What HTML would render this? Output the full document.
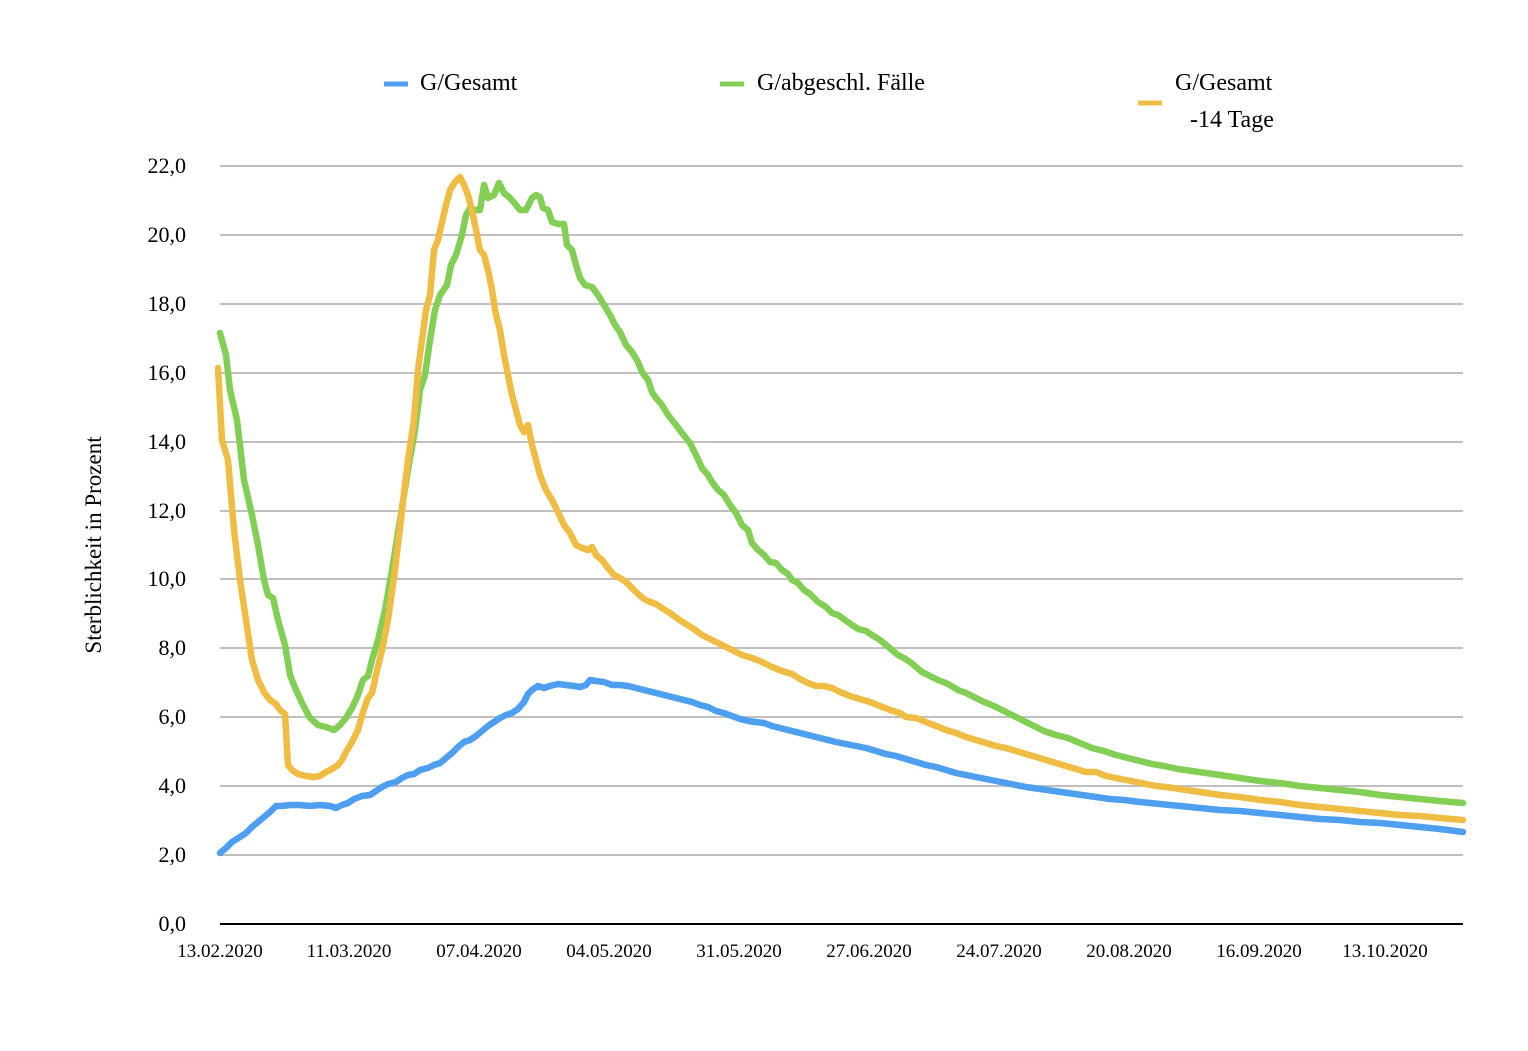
<!DOCTYPE html>
<html><head><meta charset="utf-8"><style>
html,body{margin:0;padding:0;background:#fff;}
svg text{font-family:"Liberation Serif",serif;fill:#000;}
</style></head><body>
<svg width="1528" height="1046" viewBox="0 0 1528 1046" xmlns="http://www.w3.org/2000/svg">
<g stroke="#c0c0c0" stroke-width="2">
<line x1="220" y1="166" x2="1463" y2="166"/><line x1="220" y1="235" x2="1463" y2="235"/>
<line x1="220" y1="304" x2="1463" y2="304"/><line x1="220" y1="373" x2="1463" y2="373"/>
<line x1="220" y1="442" x2="1463" y2="442"/><line x1="220" y1="511" x2="1463" y2="511"/>
<line x1="220" y1="579" x2="1463" y2="579"/><line x1="220" y1="648" x2="1463" y2="648"/>
<line x1="220" y1="717" x2="1463" y2="717"/><line x1="220" y1="786" x2="1463" y2="786"/>
<line x1="220" y1="855" x2="1463" y2="855"/>
</g>
<line x1="220" y1="924" x2="1463" y2="924" stroke="#000" stroke-width="2"/>
<g font-size="22" text-anchor="end">
<text x="186" y="173">22,0</text><text x="186" y="242">20,0</text><text x="186" y="311">18,0</text>
<text x="186" y="380">16,0</text><text x="186" y="449">14,0</text><text x="186" y="518">12,0</text>
<text x="186" y="586">10,0</text><text x="186" y="655">8,0</text><text x="186" y="724">6,0</text>
<text x="186" y="793">4,0</text><text x="186" y="862">2,0</text><text x="186" y="931">0,0</text>
</g>
<g font-size="19" text-anchor="middle">
<text x="220" y="957">13.02.2020</text><text x="349" y="957">11.03.2020</text><text x="479" y="957">07.04.2020</text>
<text x="609" y="957">04.05.2020</text><text x="739" y="957">31.05.2020</text><text x="869" y="957">27.06.2020</text>
<text x="999" y="957">24.07.2020</text><text x="1129" y="957">20.08.2020</text><text x="1259" y="957">16.09.2020</text>
<text x="1385" y="957">13.10.2020</text>
</g>
<text transform="translate(101,545) rotate(-90)" font-size="23" text-anchor="middle">Sterblichkeit in Prozent</text>
<g font-size="24">
<line x1="384" y1="84" x2="408" y2="84" stroke="#4f9ff1" stroke-width="5"/><text x="420" y="90">G/Gesamt</text>
<line x1="720" y1="84" x2="744" y2="84" stroke="#83cf55" stroke-width="5"/><text x="757" y="90">G/abgeschl. Fälle</text>
<line x1="1138" y1="103" x2="1162" y2="103" stroke="#efbc44" stroke-width="5"/><text x="1175" y="90">G/Gesamt</text><text x="1190" y="127">-14 Tage</text>
</g>
<g fill="none" stroke-width="6.5" stroke-linejoin="round" stroke-linecap="round">
<polyline stroke="#83cf55" points="220,333 226,355 230,390 237,420 244,480 252,515 258,545 264,580 268,595 273,598 278,620 285,645 290,675 296,690 303,705 310,718 318,725 326,727 334,730 340,725 346,718 352,708 358,695 363,680 368,676 372,660 378,640 385,610 392,570 400,520 408,470 415,430 420,390 425,375 430,340 435,310 440,295 447,285 451,265 456,255 462,235 466,215 470,208 475,210 480,210 484,185 488,198 494,195 499,183 504,193 510,198 516,205 520,210 526,210 532,198 536,195 540,197 543,208 548,210 552,222 558,224 564,224 567,245 572,250 576,265 580,278 585,285 592,287 598,295 604,305 610,315 615,325 620,332 626,345 632,352 638,362 642,372 648,380 652,392 656,398 662,405 668,415 676,425 682,433 690,443 696,455 702,468 708,475 712,482 718,490 724,495 730,505 736,513 742,525 748,530 752,543 758,550 764,555 770,562 776,563 782,570 788,574 792,580 798,583 804,590 810,594 818,602 826,607 832,613 838,615 845,620 852,625 858,629 866,631 872,635 880,640 886,645 892,650 898,655 904,658 910,662 916,667 922,672 930,676 938,680 948,684 958,690 966,693 974,697 984,702 994,706 1004,711 1014,716 1024,721 1034,726 1044,731 1056,735 1068,738 1080,743 1092,748 1104,751 1116,755 1128,758 1140,761 1152,764 1164,766 1178,769 1192,771 1206,773 1220,775 1240,778 1260,781 1280,783 1300,786 1320,788 1340,790 1360,792 1380,795 1400,797 1420,799 1440,801 1463,803"/>
<polyline stroke="#efbc44" points="218,368 222,440 228,460 234,530 240,580 246,620 252,660 258,680 264,692 270,700 276,704 280,710 285,714 288,765 292,770 298,774 306,776 314,777 320,776 326,772 332,769 338,765 342,760 346,752 352,742 358,730 363,712 368,698 372,693 376,675 382,650 388,620 395,570 402,510 408,460 414,420 418,370 422,340 426,310 430,295 434,250 438,240 442,222 446,205 450,190 455,182 460,177 464,185 468,195 472,210 476,230 480,250 484,255 488,270 492,290 496,315 500,330 504,355 508,375 512,395 516,410 520,425 524,432 528,425 532,445 536,460 540,475 546,490 552,500 558,512 564,525 570,533 576,545 582,548 588,550 592,547 596,555 602,560 608,568 614,575 620,578 626,582 632,588 638,594 644,599 650,602 656,604 662,608 670,613 678,619 686,624 694,629 702,635 712,640 722,645 732,650 742,655 752,658 762,662 772,667 782,671 792,674 800,679 808,683 816,686 824,686 832,688 840,692 850,696 860,699 870,702 880,706 890,710 900,713 906,717 916,718 926,722 936,726 946,730 956,733 966,737 976,740 986,743 996,746 1006,748 1016,751 1026,754 1036,757 1046,760 1056,763 1066,766 1076,769 1086,772 1096,772 1106,776 1116,778 1126,780 1136,782 1146,784 1156,786 1166,787 1180,789 1200,792 1220,795 1240,797 1260,800 1280,802 1300,805 1320,807 1340,809 1360,811 1380,813 1400,815 1420,816 1440,818 1463,820"/>
<polyline stroke="#4f9ff1" points="220,853 226,848 232,842 240,837 246,833 252,827 258,822 264,817 270,812 276,806 282,806 290,805 300,805 310,806 320,805 330,806 336,808 342,805 348,803 354,799 362,796 370,795 376,791 382,787 388,784 396,782 402,778 408,775 414,774 420,770 428,768 434,765 440,763 446,758 452,753 458,747 464,742 470,740 476,736 482,731 488,726 494,722 500,718 506,715 512,713 518,709 524,702 528,694 532,690 538,686 544,688 550,686 558,684 566,685 574,686 580,687 586,685 590,680 596,681 604,682 612,685 620,685 628,686 636,688 644,690 652,692 660,694 668,696 676,698 684,700 692,702 700,705 708,707 716,711 724,713 732,716 740,719 748,721 756,722 764,723 772,726 780,728 788,730 796,732 804,734 812,736 820,738 828,740 836,742 846,744 856,746 866,748 876,751 886,754 896,756 906,759 916,762 926,765 936,767 946,770 956,773 966,775 976,777 986,779 996,781 1006,783 1016,785 1026,787 1040,789 1054,791 1068,793 1082,795 1096,797 1110,799 1124,800 1140,802 1160,804 1180,806 1200,808 1220,810 1240,811 1260,813 1280,815 1300,817 1320,819 1340,820 1360,822 1380,823 1400,825 1420,827 1440,829 1463,832"/>
</g>
</svg>
</body></html>
